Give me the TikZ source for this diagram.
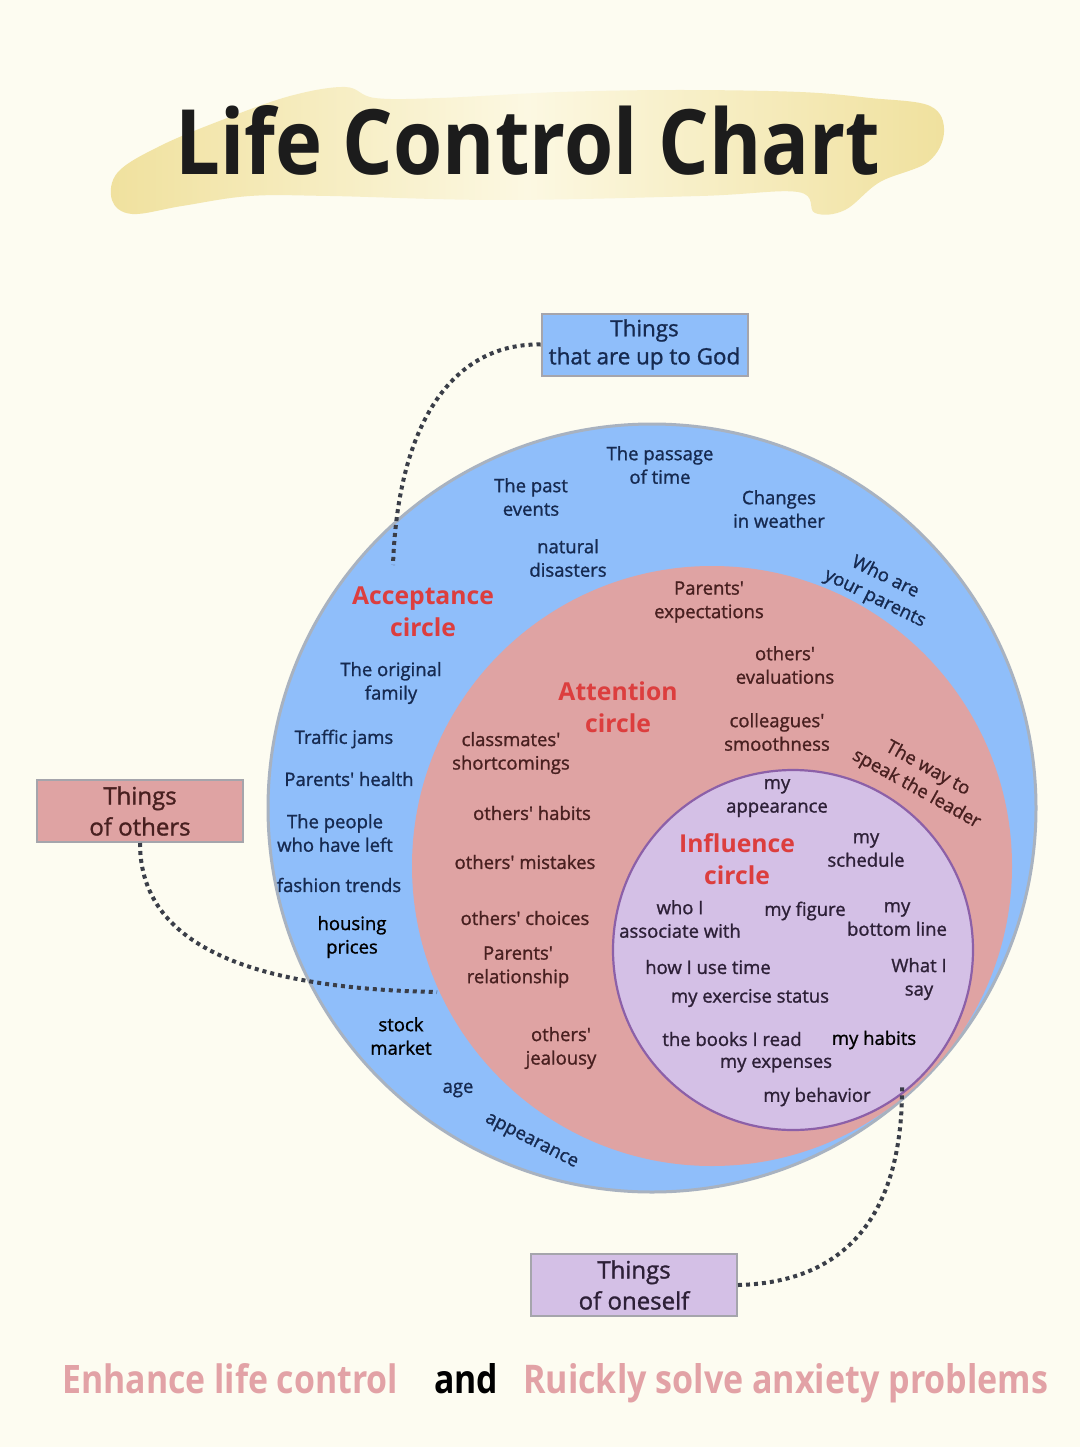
\documentclass[tikz,border=0pt]{standalone}
\usepackage{fontspec}
\setmainfont{Open Sans}[Ligatures=TeXOff]
\newfontfamily\medf{Open Sans}[Ligatures=TeXOff,FakeBold=1.2]
\definecolor{bgc}{RGB}{253,252,241}
\definecolor{brushY}{RGB}{240,225,158}
\definecolor{brushL}{RGB}{252,248,226}
\definecolor{blueF}{RGB}{143,190,250}
\definecolor{blueE}{RGB}{168,178,192}
\definecolor{pinkF}{RGB}{223,163,163}
\definecolor{purpF}{RGB}{212,192,230}
\definecolor{purpE}{RGB}{140,96,168}
\definecolor{navy}{RGB}{22,42,80}
\definecolor{brownT}{RGB}{72,32,32}
\definecolor{purpT}{RGB}{45,32,55}
\definecolor{headR}{RGB}{220,62,62}
\definecolor{dotC}{RGB}{58,62,72}
\definecolor{boxE}{RGB}{165,165,172}
\definecolor{bottomP}{RGB}{226,162,166}
\begin{document}
\begin{tikzpicture}[x=1pt,y=-1pt,
  txt/.style={align=center,inner sep=0pt,font=\fontsize{18.5}{23.5}\selectfont\medf},
  bt/.style={txt,text=navy},
  pt/.style={txt,text=brownT},
  vt/.style={txt,text=purpT},
  kt/.style={txt,text=black},
  head/.style={align=center,inner sep=0pt,text=headR,font=\fontsize{24.7}{32}\selectfont\bfseries},
  tbox/.style={draw=boxE,line width=2pt,minimum width=206pt,minimum height=62pt,align=center,inner sep=0pt},
  dotline/.style={draw=dotC,line width=4pt,dash pattern=on 4pt off 4pt},
  btm/.style={inner sep=0pt,anchor=base west}
]
\useasboundingbox (0,0) rectangle (1080,1447);
\fill[bgc] (0,0) rectangle (1080,1447);

% brush stroke behind title
\shade[left color=brushY,right color=brushY,middle color=brushL]
  plot[smooth cycle,tension=0.6] coordinates {(112,200) (118,172) (160,146) (222,120) (290,96) (345,87) (375,98) (440,98) (560,92) (680,90) (800,92) (870,98) (930,106) (944,132) (928,162) (880,182) (845,210) (815,213) (798,192) (700,196) (500,200) (330,196) (250,196) (182,206) (132,214)};
\node[inner sep=0pt,anchor=base west] (title) at (175,175)
  {\resizebox{705pt}{69pt}{\bfseries\color[RGB]{28,28,28}Life Control Chart}};

% circles
\draw[fill=blueF,draw=blueE,line width=3pt] (652,808) circle[radius=384];
\fill[pinkF] (712,866) circle[radius=300];
\draw[fill=purpF,draw=purpE,line width=2.2pt] (793,950) circle[radius=180];

% connector ends
\coordinate (godend) at (393,565);
\coordinate (othend) at (437,992);
\coordinate (selfend) at (902,1085);

% boxes
\node[tbox,fill=blueF,text=navy,font=\fontsize{22.4}{28}\selectfont\medf] (god) at (644.5,344.5) {Things\\that are up to God};
\node[tbox,fill=pinkF,text=brownT,font=\fontsize{24}{31}\selectfont\medf] (others) at (140,811) {Things\\of others};
\node[tbox,fill=purpF,text=purpT,font=\fontsize{24}{31}\selectfont\medf] (self) at (634,1285) {Things\\of oneself};

% connectors
\draw[dotline] (god.west) .. controls (455,343) and (398,420) .. (godend);
\draw[dotline] (others.south) .. controls (140,925) and (210,988) .. (othend);
\draw[dotline] (self.east) .. controls (865,1282) and (903,1190) .. (selfend);

% acceptance circle texts
\node[head] (acc) at (423,612) {Acceptance\\circle};
\node[bt] (passage) at (660,465) {The passage\\of time};
\node[bt] (past) at (531,497) {The past\\events};
\node[bt] (weather) at (779,509) {Changes\\in weather};
\node[bt] (natural) at (568,558) {natural\\disasters};
\node[bt,rotate=-26] (whoparents) at (880,588) {Who are\\your parents};
\node[bt] (origfam) at (391,683) {The original\\family};
\node[bt] (traffic) at (344,739) {Traffic jams};
\node[bt] (phealth) at (349,779) {Parents' health};
\node[bt] (people) at (335,833) {The people\\who have left};
\node[bt] (fashion) at (339,885) {fashion trends};
\node[kt] (housing) at (352,937) {housing\\prices};
\node[kt] (stock) at (401,1036) {stock\\market};
\node[bt] (age) at (458,1090) {age};
\node[bt,rotate=-27] (appear) at (531,1142) {appearance};

% attention circle texts
\node[head] (att) at (618,707) {Attention\\circle};
\node[pt] (pexp) at (709,602) {Parents'\\expectations};
\node[pt] (oeval) at (785,665) {others'\\evaluations};
\node[pt] (colleag) at (777,732) {colleagues'\\smoothness};
\node[pt,rotate=-29] (leader) at (922,779) {The way to\\speak the leader};
\node[pt] (classm) at (511,753) {classmates'\\shortcomings};
\node[pt] (ohabits) at (532,813) {others' habits};
\node[pt] (omist) at (525,862) {others' mistakes};
\node[pt] (ochoice) at (525,918) {others' choices};
\node[pt] (prel) at (518,967) {Parents'\\relationship};
\node[pt] (ojeal) at (561,1048) {others'\\jealousy};

% influence circle texts
\node[head] (infl) at (737,859) {Influence\\circle};
\node[vt] (myapp) at (777,798) {my\\appearance};
\node[vt] (sched) at (866,850) {my\\schedule};
\node[vt] (assoc) at (680,919) {who I\\associate with};
\node[vt] (figure) at (805,911) {my figure};
\node[vt] (bottom) at (897,919) {my\\bottom line};
\node[vt] (usetime) at (708,967) {how I use time};
\node[vt] (whatsay) at (919,979) {What I\\say};
\node[vt] (exercise) at (750,998) {my exercise status};
\node[vt] (books) at (732,1039) {the books I read};
\node[kt] (myhabits) at (874,1040) {my habits};
\node[vt] (expenses) at (776,1065) {my expenses};
\node[vt] (behavior) at (817,1097) {my behavior};

% bottom line
\node[btm] (enh) at (62,1393) {\resizebox{336pt}{30pt}{\bfseries\color{bottomP}Enhance life control}};
\node[btm] (and) at (434,1393) {\resizebox{64pt}{30pt}{\bfseries\color{black}and}};
\node[btm] (solve) at (523,1393) {\resizebox{525pt}{30pt}{\bfseries\color{bottomP}Ruickly solve anxiety problems}};
\end{tikzpicture}
\end{document}
